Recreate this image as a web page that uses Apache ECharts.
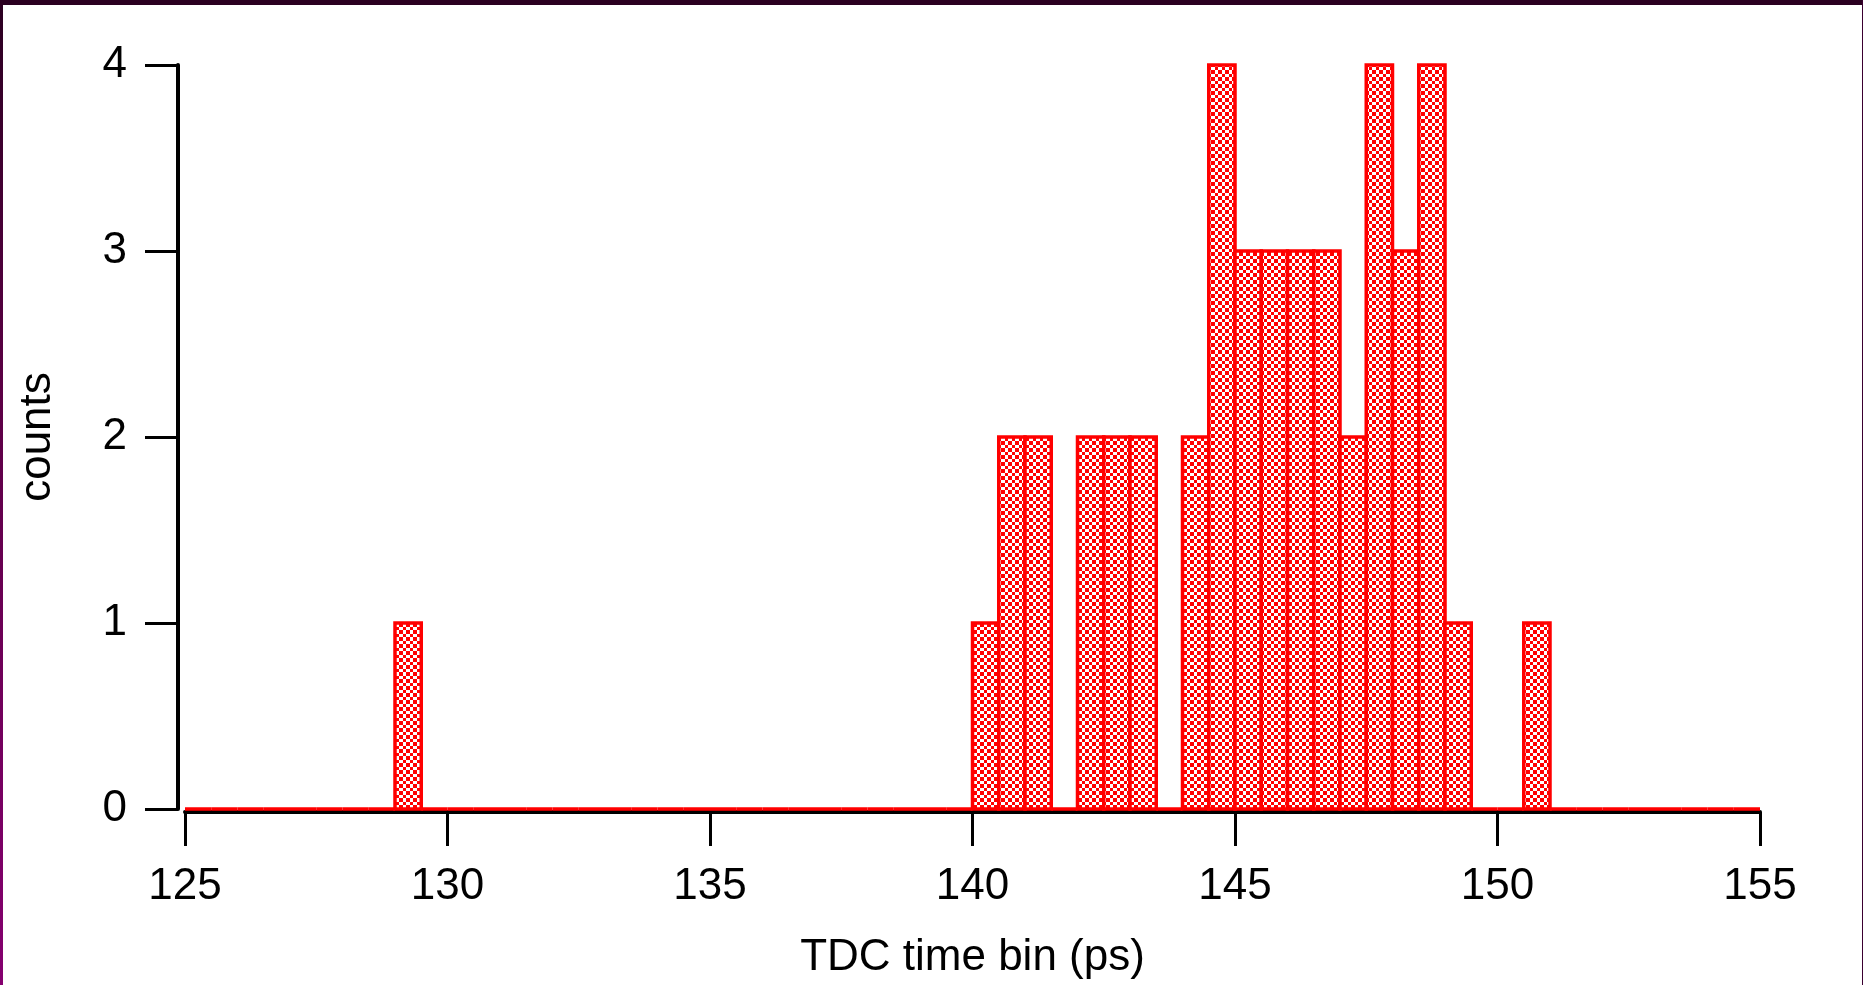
<!DOCTYPE html>
<html>
<head>
<meta charset="utf-8">
<script src="https://cdn.jsdelivr.net/npm/echarts@6/dist/echarts.min.js"></script>
<style>
  html, body { margin: 0; padding: 0; background: #ffffff; overflow: hidden; }
  #chart { position: absolute; left: 0; top: 0; width: 1863px; height: 985px; background: #ffffff; }
  .frame { position: absolute; pointer-events: none; }
</style>
</head>
<body>
<div id="chart"></div>
<div class="frame" style="left:0;top:0;width:1863px;height:5px;background:#2b0021;"></div>
<div class="frame" style="left:0;top:0;width:3px;height:985px;background:linear-gradient(#2b0021,#5c0045 40%,#85006f);"></div>
<div class="frame" style="left:1862px;top:0;width:1px;height:985px;background:#3a0030;"></div>
<script>
// ---- data ----
const binWidth = 0.5;
const binStarts = [
  125, 125.5, 126, 126.5, 127, 127.5, 128, 128.5, 129, 129.5,
  130, 130.5, 131, 131.5, 132, 132.5, 133, 133.5, 134, 134.5,
  135, 135.5, 136, 136.5, 137, 137.5, 138, 138.5, 139, 139.5,
  140, 140.5, 141, 141.5, 142, 142.5, 143, 143.5, 144, 144.5,
  145, 145.5, 146, 146.5, 147, 147.5, 148, 148.5, 149, 149.5,
  150, 150.5, 151, 151.5, 152, 152.5, 153, 153.5, 154, 154.5
];
const counts = [
  0, 0, 0, 0, 0, 0, 0, 0, 1, 0,
  0, 0, 0, 0, 0, 0, 0, 0, 0, 0,
  0, 0, 0, 0, 0, 0, 0, 0, 0, 0,
  1, 2, 2, 0, 2, 2, 2, 0, 2, 4,
  3, 3, 3, 3, 2, 4, 3, 4, 1, 0,
  0, 1, 0, 0, 0, 0, 0, 0, 0, 0
];
const xTicks = { min: 125, max: 155, interval: 5 };
const yTicks = { min: 0, max: 4, interval: 1 };
const xTitle = 'TDC time bin (ps)';
const yTitle = 'counts';

// ---- checker pattern fill ----
const pat = document.createElement('canvas');
pat.width = 7; pat.height = 7;
const pctx = pat.getContext('2d');
pctx.fillStyle = '#ffffff';
pctx.fillRect(0, 0, 7, 7);
pctx.fillStyle = '#ff0000';
pctx.fillRect(0, 0, 4, 4);
pctx.fillRect(4, 4, 3, 3);
const checker = { image: pat, repeat: 'repeat' };

const font = "'Liberation Sans', Arial, 'DejaVu Sans', sans-serif";
const chart = echarts.init(document.getElementById('chart'), null, { renderer: 'canvas' });

chart.setOption({
  backgroundColor: '#ffffff',
  animation: false,
  grid: { left: 185, right: 103, top: 65, bottom: 176, containLabel: false },
  xAxis: {
    type: 'value',
    min: xTicks.min, max: xTicks.max, interval: xTicks.interval,
    offset: 3,
    name: xTitle,
    nameLocation: 'middle',
    nameGap: 124,
    nameTextStyle: { fontFamily: font, fontSize: 44, color: '#000000' },
    axisLine: { show: true, onZero: false, lineStyle: { color: '#000000', width: 4 } },
    axisTick: { show: true, length: 34, lineStyle: { color: '#000000', width: 3 } },
    axisLabel: { margin: 53, fontFamily: font, fontSize: 44, color: '#000000' },
    splitLine: { show: false }
  },
  yAxis: {
    type: 'value',
    min: yTicks.min, max: yTicks.max, interval: yTicks.interval,
    offset: 7,
    name: yTitle,
    nameLocation: 'middle',
    nameGap: 118,
    nameRotate: 90,
    nameTextStyle: { fontFamily: font, fontSize: 44, color: '#000000' },
    axisLine: { show: true, onZero: false, lineStyle: { color: '#000000', width: 4 } },
    axisTick: { show: true, length: 33, lineStyle: { color: '#000000', width: 3 } },
    axisLabel: { margin: 51, fontFamily: font, fontSize: 44, color: '#000000' },
    splitLine: { show: false }
  },
  series: [{
    type: 'custom',
    clip: false,
    data: binStarts.map((b, i) => [b, counts[i]]),
    encode: { x: 0, y: 1 },
    renderItem: function (params, api) {
      const x0 = api.value(0);
      const v = api.value(1);
      const p0 = api.coord([x0, 0]);
      const p1 = api.coord([x0 + binWidth, v]);
      return {
        type: 'rect',
        shape: { x: p0[0], y: p1[1], width: p1[0] - p0[0], height: p0[1] - p1[1] },
        style: { fill: v > 0 ? checker : 'none', stroke: '#ff0000', lineWidth: 3.5 }
      };
    }
  }]
});
</script>
</body>
</html>
